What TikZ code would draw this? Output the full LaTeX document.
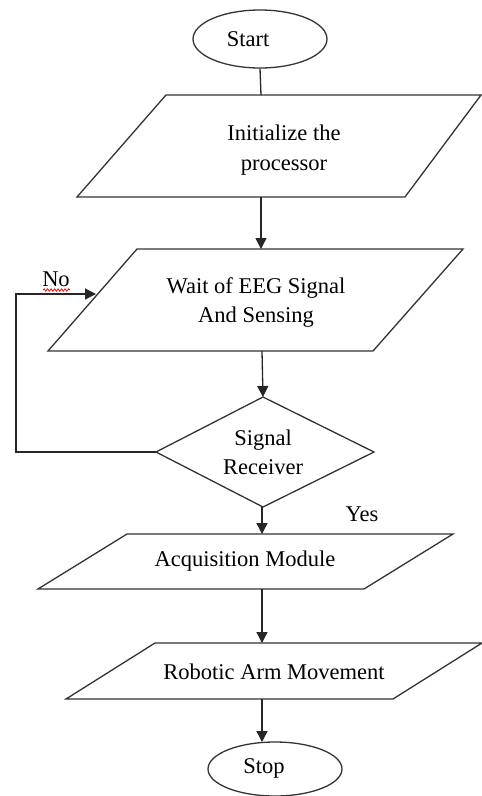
\documentclass[tikz,border=0pt]{standalone}
\usepackage{fontspec}
\setmainfont{Liberation Serif}
\usetikzlibrary{shapes.geometric,arrows.meta,decorations.pathmorphing}
\begin{document}
\begin{tikzpicture}[x=1pt,y=-1pt,
  shapeline/.style={draw=black!80, line width=1.3pt, line join=miter},
  arr/.style={line width=1.3pt, draw=black!85, -{Triangle[length=11pt,width=11pt]}},
  plainline/.style={line width=1.3pt, draw=black!85},
  lbl/.style={font=\fontsize{22.5}{29.5}\selectfont, align=center, inner sep=0pt},
  term/.style={ellipse, draw=black!80, line width=1.3pt, inner sep=0pt}
]
\useasboundingbox (0,0) rectangle (482,796);

% Start
\node[term, minimum width=134pt, minimum height=58pt] (start) at (260,39) {};
\node[lbl] (starttext) at (248,39) {Start};

% Initialize
\draw[shapeline] (166,95) -- (481,95) -- (405,197) -- (77,197) -- cycle;
\coordinate (initTop) at (261,95);
\coordinate (initBot) at (261,197);
\node[lbl] (inittext) at (284,150) {Initialize the\\processor};

% Wait
\draw[shapeline] (137,249) -- (463,249) -- (373,351) -- (48,351) -- cycle;
\coordinate (waitTop) at (261,249);
\coordinate (waitBot) at (262,351);
\coordinate (waitLeft) at (96,294);
\node[lbl] (waittext) at (256,302.5) {Wait of EEG Signal\\And Sensing};

% Decision
\draw[shapeline] (263,397) -- (374,452) -- (263,507) -- (156,452) -- cycle;
\coordinate (dTop) at (263,397);
\coordinate (dBot) at (262,507);
\coordinate (dLeft) at (156,452);
\node[lbl] (dtext) at (263,452.5) {Signal\\Receiver};

% Acquisition
\draw[shapeline] (127,534) -- (453,534) -- (364,589) -- (38,589) -- cycle;
\coordinate (acqTop) at (262,534);
\coordinate (acqBot) at (262,589);
\node[lbl] (acqtext) at (245,561) {Acquisition Module};

% Robotic
\draw[shapeline] (155,643) -- (482,643) -- (393,699) -- (66,699) -- cycle;
\coordinate (robTop) at (262,643);
\coordinate (robBot) at (262,699);
\node[lbl] (robtext) at (274,672) {Robotic Arm Movement};

% Stop
\node[term, minimum width=134pt, minimum height=54pt] (stop) at (275,769) {};
\coordinate (stopTop) at (262,742);
\node[lbl] (stoptext) at (264,768) {Stop};

% Connectors
\draw[plainline] (start.south) -- (initTop);
\draw[arr] (initBot) -- (waitTop);
\draw[arr] (waitBot) -- (dTop);
\draw[arr] (dBot) -- (acqTop);
\draw[arr] (acqBot) -- (robTop);
\draw[arr] (robBot) -- (stopTop);
\coordinate (loopA) at (16,452);
\draw[arr] (dLeft) -- (loopA) |- (waitLeft);

% Labels
\node[lbl] (nolbl) at (56,279) {No};
\draw[red, line width=0.8pt, decorate, decoration={snake, amplitude=1.2pt, segment length=3.5pt}] (43,290) -- (70,290);
\node[lbl] (yeslbl) at (362,514) {Yes};
\end{tikzpicture}
\end{document}
